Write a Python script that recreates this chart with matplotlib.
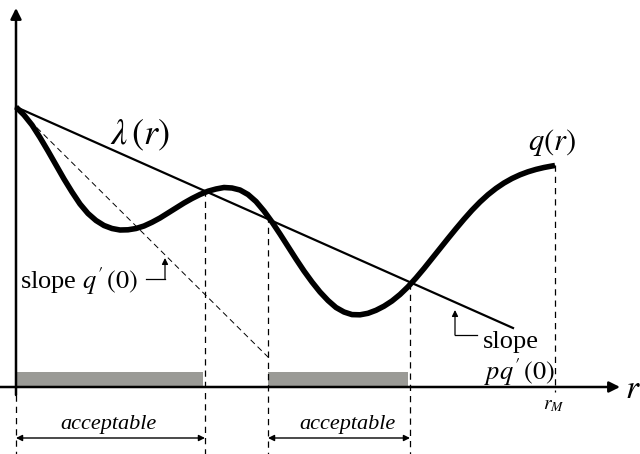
import matplotlib.pyplot as plt

plt.rcParams['font.family'] = ['Liberation Serif', 'DejaVu Serif']
plt.rcParams['mathtext.fontset'] = 'stix'

# q(r) curve (screen units, y down), every 8 px
q_x = list(range(16, 553, 8)) + [555]
q_y = [107, 115, 125, 137.5, 151, 165, 179, 192, 204, 213.5, 220.5, 225.5, 228.5, 230,
       229.8, 228.5, 226, 222.3, 218, 213, 208, 203, 198.5, 194.5, 191.2, 189, 187.5,
       188, 190, 194.5, 201.5, 211, 222, 234, 246.5, 259, 271, 282, 292, 300.5, 307.5,
       312, 314.6, 314.8, 313.3, 310.3, 306.2, 301, 294.5, 286.8, 278, 268.5, 258.5, 248.5,
       238.5, 228.7, 219.2, 210.2, 202, 194.7, 188.4, 183, 178.5, 174.8, 171.8, 169.4,
       167.5, 166, 165.5]

# lambda(r) straight line and the q'(0) tangent
lam_x = [16, 513]
lam_y = [107, 328]
tan_x = [16, 271]
tan_y = [107, 360]

x0, y_axis = 16, 387
acceptable = [(16, 205), (268, 410)]
cuts = [(205, 190), (268, 216), (410, 283)]
r_M = (555, 165)

fig = plt.figure(figsize=(6.4, 4.54), dpi=100)
ax = fig.add_axes([0, 0, 1, 1])
ax.set_xlim(0, 640)
ax.set_ylim(454, 0)
ax.axis('off')

# axes with arrows
ax.annotate('', xy=(x0, 8), xytext=(x0, 395),
            arrowprops=dict(arrowstyle='-|>', lw=1.8, color='k', mutation_scale=16, shrinkA=0, shrinkB=0))
ax.annotate('', xy=(620, y_axis), xytext=(0, y_axis),
            arrowprops=dict(arrowstyle='-|>', lw=1.8, color='k', mutation_scale=16, shrinkA=0, shrinkB=0))
ax.text(633, 390, r'$r$', fontsize=24, ha='center', va='center')

# grey acceptable bars
for a, b in acceptable:
    ax.fill_between([a, b - 2], 372, y_axis, color='#9a9a96', lw=0)

# dashed verticals
dash = dict(color='k', lw=0.9, ls=(0, (5, 4)))
ax.plot([x0, x0], [395, 454], **dash)
for cx, cy in cuts:
    ax.plot([cx, cx], [cy, 454], **dash)
ax.plot([r_M[0], r_M[0]], [r_M[1], 392], **dash)
ax.plot(tan_x, tan_y, color='k', lw=0.7, ls=(0, (6, 4)))

# lambda line and q curve
ax.plot(lam_x, lam_y, color='k', lw=1.6)
ax.plot(q_x, q_y, color='k', lw=4, solid_joinstyle='round', solid_capstyle='butt')

ax.text(140, 135, r'$\lambda\,(r)$', fontsize=26, ha='center', va='center')
ax.text(552, 143, r'$q(r)$', fontsize=22, ha='center', va='center')

# slope annotations
ax.text(20, 281, "slope $q'\\,(0)$", fontsize=19, ha='left', va='center')
ax.plot([146, 165], [279, 279], color='k', lw=0.9)
ax.annotate('', xy=(165, 258), xytext=(165, 279),
            arrowprops=dict(arrowstyle='-|>', lw=0.9, color='k', mutation_scale=9, shrinkA=0, shrinkB=0))
ax.text(483, 342, 'slope', fontsize=19, ha='left', va='center')
ax.text(484, 372, "$pq'\\,(0)$", fontsize=19, ha='left', va='center')
ax.plot([455, 477], [335, 335], color='k', lw=0.9)
ax.annotate('', xy=(455, 310), xytext=(455, 335),
            arrowprops=dict(arrowstyle='-|>', lw=0.9, color='k', mutation_scale=9, shrinkA=0, shrinkB=0))

ax.text(554, 406, '$r_M$', fontsize=14, ha='center', va='center')

# acceptable intervals
for (a, b), cx in zip(acceptable, [108, 347]):
    ax.text(cx, 424, 'acceptable', fontsize=16, style='italic', ha='center', va='center')
    ax.annotate('', xy=(a, 438), xytext=(b, 438),
                arrowprops=dict(arrowstyle='<|-|>', lw=1.0, color='k', mutation_scale=9, shrinkA=0, shrinkB=0))

fig.savefig('out.png', dpi=100)
